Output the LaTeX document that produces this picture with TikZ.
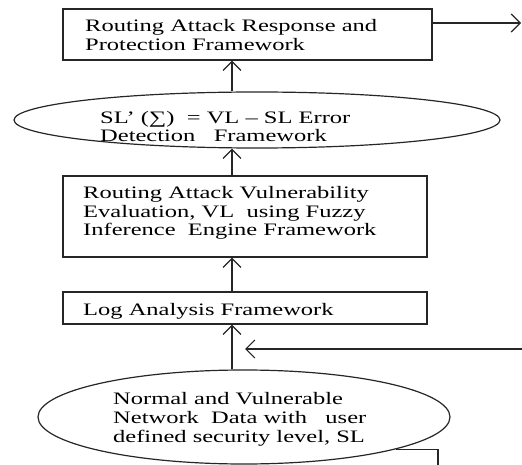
\documentclass[tikz,border=0pt]{standalone}
\usepackage{fontspec}
\setmainfont{Liberation Serif}[FakeStretch=1.4]
\usetikzlibrary{arrows.meta,shapes.geometric}
\begin{document}
\begin{tikzpicture}[x=1pt,y=-1pt,
  shp/.style={draw=black!85, line width=1.2pt, inner sep=0pt},
  boxn/.style={shp, rectangle},
  elln/.style={shp, ellipse},
  txt/.style={anchor=base west, inner sep=0pt, align=left, font=\fontsize{17.5}{18.7}\selectfont},
  arr/.style={draw=black!85, line width=1.2pt, -{Straight Barb[length=9pt,width=18pt,line width=1.2pt]}},
  ln/.style={draw=black!85, line width=1.2pt}]
\useasboundingbox (0,0) rectangle (522,465);
% shapes
\node[boxn, minimum width=369pt, minimum height=51pt] (b1) at (247.5,34.5) {};
\node[elln, minimum width=486pt, minimum height=56pt] (e1) at (257,120) {};
\node[boxn, minimum width=364pt, minimum height=81pt] (b2) at (245,216.5) {};
\node[boxn, minimum width=364pt, minimum height=32pt] (b3) at (245,308) {};
\node[elln, minimum width=412pt, minimum height=94pt] (e2) at (244,417) {};
% texts (anchored at the baseline of the last line)
\node[txt] (t1) at (85,50.5) {Routing Attack Response and\\Protection Framework};
\node[txt] (t2) at (100,142) {SL’ (∑) \ = VL – SL Error\\Detection \ \ Framework};
\node[txt] (t3) at (83,236) {Routing Attack Vulnerability\\Evaluation, VL \ using Fuzzy\\Inference \ Engine Framework};
\node[txt] (t4) at (83,315) {Log Analysis Framework};
\node[txt] (t5) at (113,442) {Normal and Vulnerable\\Network \ Data with \ \ user\\defined security level, SL};
% coordinates
\coordinate (ax) at (232,0);
\coordinate (out) at (521,23);
\coordinate (inp) at (523,349);
\coordinate (inptip) at (245,349);
\coordinate (fb) at (438,470);
% connectors
\draw[arr] (b1.east |- out) -- (out);
\draw[arr] (ax |- e1.north) -- (ax |- b1.south);
\draw[arr] (ax |- b2.north) -- (ax |- e1.south);
\draw[arr] (ax |- b3.north) -- (ax |- b2.south);
\draw[arr] (ax |- e2.north) -- (ax |- b3.south);
\draw[arr] (inp) -- (inptip);
\draw[ln] (e2.-12.7) -| (fb);
\end{tikzpicture}
\end{document}
